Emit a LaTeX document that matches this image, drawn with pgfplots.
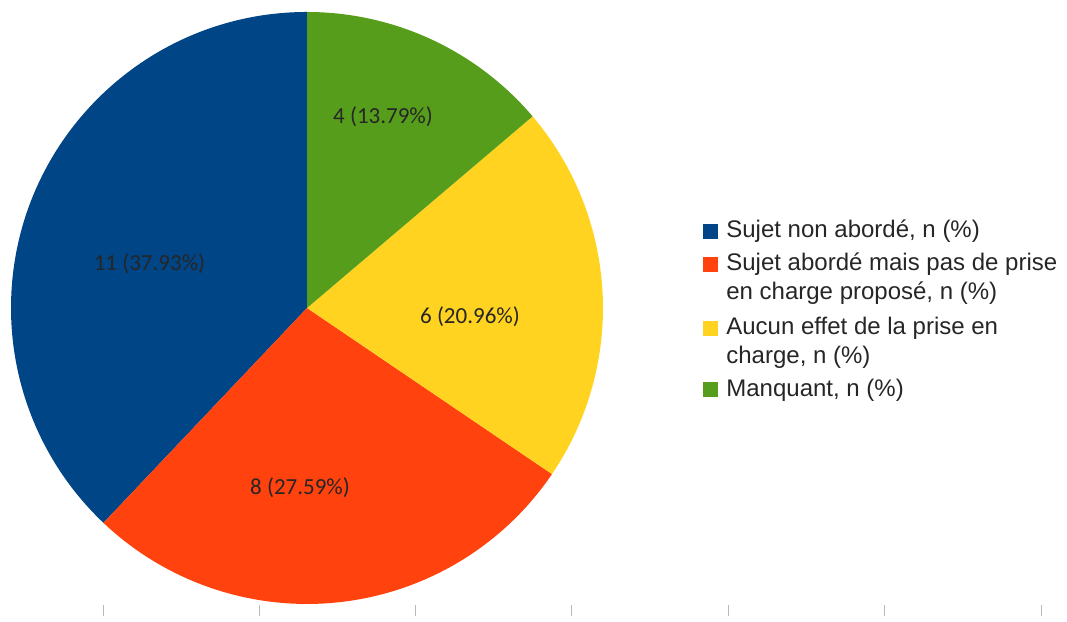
\documentclass[border=0pt]{standalone}
\usepackage{pgfplots}
\pgfplotsset{compat=1.18}
\usepackage{fontspec}
\setmainfont{Liberation Sans}
\newfontfamily\labelfont{Carlito}

\definecolor{sliceblue}{HTML}{004586}
\definecolor{slicered}{HTML}{FF420E}
\definecolor{sliceyellow}{HTML}{FFD320}
\definecolor{slicegreen}{HTML}{579D1C}

% counts per category
\def\nA{11}% Sujet non aborde
\def\nB{8}%  Sujet aborde mais pas de prise en charge
\def\nC{6}%  Aucun effet
\def\nD{4}%  Manquant
\pgfmathsetmacro\tot{\nA+\nB+\nC+\nD}
\pgfmathsetmacro\aA{90+360*\nA/\tot}
\pgfmathsetmacro\aB{\aA+360*\nB/\tot}
\pgfmathsetmacro\aC{\aB+360*\nC/\tot}
\pgfmathsetmacro\aD{\aC+360*\nD/\tot}
\def\R{148pt}

\begin{document}
\begin{tikzpicture}
  \begin{axis}[
    x=\R, y=\R,
    xmin=-1.0372, xmax=2.5676,
    ymin=-1.0405, ymax=1.0405,
    hide axis,
    clip=false,
  ]
  \path (axis cs:-1.0372,-1.0405) rectangle (axis cs:2.5676,1.0405);

  % slices
  \fill[sliceblue] (axis cs:0,0) -- (axis cs:0,1)
    arc[start angle=90, end angle=\aA, radius=\R] -- cycle;
  \fill[slicered] (axis cs:0,0) -- (axis cs:{cos(\aA)},{sin(\aA)})
    arc[start angle=\aA, end angle=\aB, radius=\R] -- cycle;
  \fill[sliceyellow] (axis cs:0,0) -- (axis cs:{cos(\aB)},{sin(\aB)})
    arc[start angle=\aB, end angle=\aC, radius=\R] -- cycle;
  \fill[slicegreen] (axis cs:0,0) -- (axis cs:{cos(\aC)},{sin(\aC)})
    arc[start angle=\aC, end angle=\aD, radius=\R] -- cycle;

  % slice labels
  \begin{scope}[every node/.style={font=\labelfont\fontsize{11.5}{13}\selectfont, text=black!85, inner sep=0pt}]
    \node at (axis cs:-0.5321,0.1503) {11 (37.93\%)};
    \node at (axis cs:-0.0236,-0.6081) {8 (27.59\%)};
    \node at (axis cs:0.5507,-0.0287) {6 (20.96\%)};
    \node at (axis cs:0.2568,0.6470) {4 (13.79\%)};
  \end{scope}

  % legend
  \begin{scope}[every node/.style={font=\fontsize{12}{14}\selectfont, text=black!85, inner sep=0pt, anchor=base west}]
    \fill[sliceblue]   (axis cs:1.3632,0.2584) ++(-3.75pt,-3.75pt) rectangle ++(7.5pt,7.5pt);
    \fill[slicered]    (axis cs:1.3632,0.1470) ++(-3.75pt,-3.75pt) rectangle ++(7.5pt,7.5pt);
    \fill[sliceyellow] (axis cs:1.3632,-0.0693) ++(-3.75pt,-3.75pt) rectangle ++(7.5pt,7.5pt);
    \fill[slicegreen]  (axis cs:1.3632,-0.2753) ++(-3.75pt,-3.75pt) rectangle ++(7.5pt,7.5pt);
    \node at (axis cs:1.4155,0.2382) {Sujet non abordé, n (\%)};
    \node at (axis cs:1.4155,0.1267) {Sujet abordé mais pas de prise};
    \node at (axis cs:1.4155,0.0287) {en charge proposé, n (\%)};
    \node at (axis cs:1.4155,-0.0895) {Aucun effet de la prise en};
    \node at (axis cs:1.4155,-0.1875) {charge, n (\%)};
    \node at (axis cs:1.4155,-0.2990) {Manquant, n (\%)};
  \end{scope}

  % faint ticks of the cut-off axis at the bottom
  \pgfplotsinvokeforeach{103,259,415,571,728,884,1041}{
    \draw[gray!55, line width=0.4pt] (axis cs:{(#1-307)/296},-1.0405) -- (axis cs:{(#1-307)/296},{(308-605)/296});
  }
  \end{axis}
\end{tikzpicture}
\end{document}
